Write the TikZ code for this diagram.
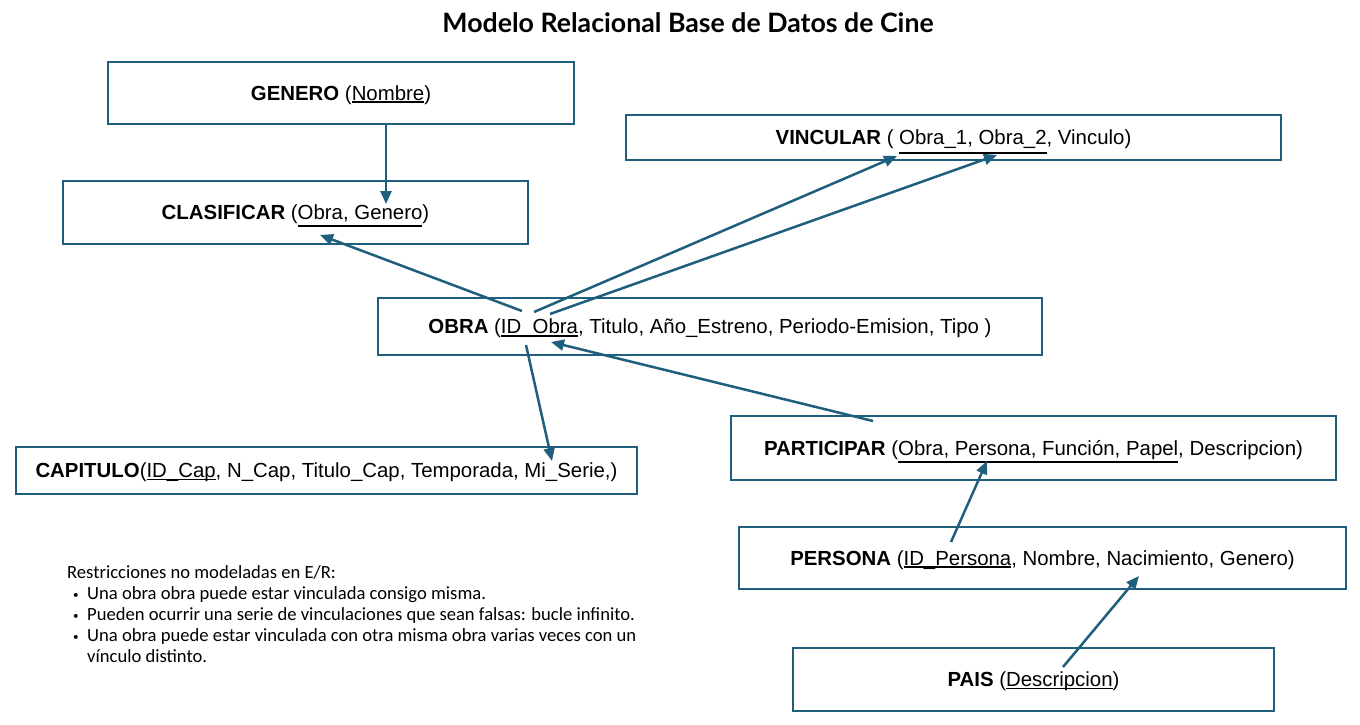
\documentclass[tikz,border=0pt]{standalone}
\usepackage{fontspec}
\setmainfont{Liberation Sans}
\newfontfamily\titlefont{Lato}
\newfontfamily\notefont{Carlito}
\usetikzlibrary{arrows.meta,calc}
\definecolor{teal1}{RGB}{31,94,125}
\newcommand\kul[3][-2.5pt]{\setbox0\hbox{#3}\rlap{\rule[#1]{\wd0}{#2}}\box0}
\newcommand\nbul{\makebox[14pt][l]{\raisebox{1pt}{\fontsize{11}{11}\selectfont•}}}
\tikzset{
  rel/.style={draw=teal1,line width=2pt,inner sep=0pt,text height=18pt,text depth=4pt,
    font=\fontsize{20.4}{24}\selectfont},
  fk/.style={draw=teal1,line width=2.5pt,-{Triangle[length=13pt,width=11pt]}},
}
\begin{document}
\begin{tikzpicture}[x=1pt,y=-1pt]
\useasboundingbox[fill=white] (0,0) rectangle (1360,725);
\node[font=\titlefont\bfseries\fontsize{26.7}{30}\selectfont] (title) at (688,23) {Modelo Relacional Base de Datos de Cine};

\node[rel,minimum width=466pt,minimum height=62pt] (genero) at (341,93)
  {\textbf{GENERO} (\kul{1.2pt}{Nombre})};
\node[rel,minimum width=465pt,minimum height=63pt] (clasificar) at (295.5,212.5)
  {\textbf{CLASIFICAR} (\kul[-7pt]{2pt}{Obra, Genero})};
\node[rel,minimum width=655pt,minimum height=45pt] (vincular) at (953.5,137.5)
  {\textbf{VINCULAR} ( \kul[-9.5pt]{2pt}{Obra\_1, Obra\_2}, Vinculo)};
\node[rel,minimum width=664pt,minimum height=57pt] (obra) at (710,326.5)
  {\textbf{OBRA} (\kul[-3pt]{1.5pt}{ID\_Obra}, Titulo, Año\_Estreno, Periodo-Emision, Tipo )};
\node[rel,minimum width=621pt,minimum height=47pt] (capitulo) at (326.5,470.5)
  {\textbf{CAPITULO}(\kul{1.2pt}{ID\_Cap}, N\_Cap, Titulo\_Cap, Temporada, Mi\_Serie,)};
\node[rel,minimum width=605pt,minimum height=64pt] (participar) at (1033.5,448)
  {\textbf{PARTICIPAR} (\kul[-8pt]{2pt}{Obra, Persona, Función, Papel}, Descripcion)};
\node[rel,minimum width=607pt,minimum height=62pt] (persona) at (1042.5,558)
  {\textbf{PERSONA} (\kul{1.2pt}{ID\_Persona}, Nombre, Nacimiento, Genero)};
\node[rel,minimum width=481pt,minimum height=63pt] (pais) at (1033.5,679.5)
  {\textbf{PAIS} (\kul{1.2pt}{Descripcion})};

\node[anchor=north west,inner sep=0pt,align=left,font=\notefont\fontsize{18.6}{21.2}\selectfont] (notes) at (67,565)
  {Restricciones no modeladas en E/R:\\
   \hspace*{6pt}\nbul Una obra obra puede estar vinculada consigo misma.\\
   \hspace*{6pt}\nbul Pueden ocurrir una serie de vinculaciones que sean falsas: bucle infinito.\\
   \hspace*{6pt}\nbul Una obra puede estar vinculada con otra misma obra varias veces con un\\
   \hspace*{20pt}vínculo distinto.};

\draw[fk] ($(genero.north west)+(279,62)$) -- ($(clasificar.north west)+(324,24)$);
\draw[fk] ($(obra.north west)+(145,14)$) -- ($(clasificar.north west)+(258,55)$);
\draw[fk] ($(obra.north west)+(157,15)$) -- ($(vincular.north west)+(272,42)$);
\draw[fk] ($(obra.north west)+(173,17)$) -- ($(vincular.north west)+(372,41)$);
\draw[fk] ($(obra.north west)+(149,48)$) -- ($(capitulo.north west)+(537,15)$);
\draw[fk] ($(participar.north west)+(143,6)$) -- ($(obra.north west)+(174,45)$);
\draw[fk] ($(persona.north west)+(213,16)$) -- ($(participar.north west)+(257,46)$);
\draw[fk] ($(pais.north west)+(271,20)$) -- ($(persona.north west)+(401,50)$);
\end{tikzpicture}
\end{document}
